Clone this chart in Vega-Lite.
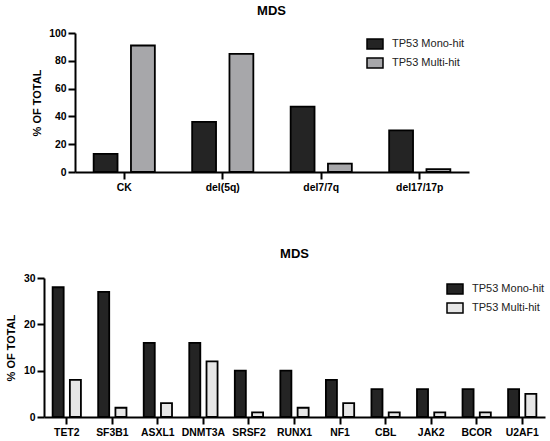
{
  "$schema": "https://vega.github.io/schema/vega-lite/v6.json",
  "padding": {"left": 5, "top": 5, "right": 5, "bottom": 5},
  "spacing": 55,
  "datasets": {
    "cyto": [
      {"lesion": "CK", "group": "TP53 Mono-hit", "pct": 13},
      {"lesion": "CK", "group": "TP53 Multi-hit", "pct": 91},
      {"lesion": "del(5q)", "group": "TP53 Mono-hit", "pct": 36},
      {"lesion": "del(5q)", "group": "TP53 Multi-hit", "pct": 85},
      {"lesion": "del7/7q", "group": "TP53 Mono-hit", "pct": 47},
      {"lesion": "del7/7q", "group": "TP53 Multi-hit", "pct": 6},
      {"lesion": "del17/17p", "group": "TP53 Mono-hit", "pct": 30},
      {"lesion": "del17/17p", "group": "TP53 Multi-hit", "pct": 2}
    ],
    "genes": [
      {"gene": "TET2", "group": "TP53 Mono-hit", "pct": 28},
      {"gene": "TET2", "group": "TP53 Multi-hit", "pct": 8},
      {"gene": "SF3B1", "group": "TP53 Mono-hit", "pct": 27},
      {"gene": "SF3B1", "group": "TP53 Multi-hit", "pct": 2},
      {"gene": "ASXL1", "group": "TP53 Mono-hit", "pct": 16},
      {"gene": "ASXL1", "group": "TP53 Multi-hit", "pct": 3},
      {"gene": "DNMT3A", "group": "TP53 Mono-hit", "pct": 16},
      {"gene": "DNMT3A", "group": "TP53 Multi-hit", "pct": 12},
      {"gene": "SRSF2", "group": "TP53 Mono-hit", "pct": 10},
      {"gene": "SRSF2", "group": "TP53 Multi-hit", "pct": 1},
      {"gene": "RUNX1", "group": "TP53 Mono-hit", "pct": 10},
      {"gene": "RUNX1", "group": "TP53 Multi-hit", "pct": 2},
      {"gene": "NF1", "group": "TP53 Mono-hit", "pct": 8},
      {"gene": "NF1", "group": "TP53 Multi-hit", "pct": 3},
      {"gene": "CBL", "group": "TP53 Mono-hit", "pct": 6},
      {"gene": "CBL", "group": "TP53 Multi-hit", "pct": 1},
      {"gene": "JAK2", "group": "TP53 Mono-hit", "pct": 6},
      {"gene": "JAK2", "group": "TP53 Multi-hit", "pct": 1},
      {"gene": "BCOR", "group": "TP53 Mono-hit", "pct": 6},
      {"gene": "BCOR", "group": "TP53 Multi-hit", "pct": 1},
      {"gene": "U2AF1", "group": "TP53 Mono-hit", "pct": 6},
      {"gene": "U2AF1", "group": "TP53 Multi-hit", "pct": 5}
    ]
  },
  "vconcat": [
    {
      "title": {"text": "MDS", "anchor": "middle", "frame": "group", "offset": 10},
      "width": 455,
      "height": 139,
      "data": {"name": "cyto"},
      "mark": {"type": "bar", "stroke": "black", "strokeWidth": 1.8},
      "encoding": {
        "x": {
          "field": "lesion", "type": "nominal", "sort": null, "title": null,
          "scale": {"range": [31, 425], "paddingInner": 0, "paddingOuter": 0},
          "axis": {"labelAngle": 0}
        },
        "xOffset": {
          "field": "group", "type": "nominal",
          "scale": {"paddingInner": 0.36, "paddingOuter": 0.5}
        },
        "y": {
          "field": "pct", "type": "quantitative", "title": "% OF TOTAL",
          "scale": {"domain": [0, 100]},
          "axis": {"values": [0, 20, 40, 60, 80, 100], "offset": -31}
        },
        "color": {
          "field": "group", "type": "nominal", "title": null,
          "scale": {"domain": ["TP53 Mono-hit", "TP53 Multi-hit"], "range": ["#242424", "#a7a7aa"]},
          "legend": {"orient": "none", "legendX": 320, "legendY": 0}
        }
      }
    },
    {
      "title": {"text": "MDS", "anchor": "middle", "frame": "group", "offset": 12},
      "width": 501,
      "height": 139,
      "data": {"name": "genes"},
      "mark": {"type": "bar", "stroke": "black", "strokeWidth": 1.8},
      "encoding": {
        "x": {
          "field": "gene", "type": "nominal", "sort": null, "title": null,
          "scale": {"paddingInner": 0, "paddingOuter": 0},
          "axis": {"labelAngle": 0}
        },
        "xOffset": {
          "field": "group", "type": "nominal",
          "scale": {"paddingInner": 0.36, "paddingOuter": 0.5}
        },
        "y": {
          "field": "pct", "type": "quantitative", "title": "% OF TOTAL",
          "scale": {"domain": [0, 30]},
          "axis": {"values": [0, 10, 20, 30]}
        },
        "color": {
          "field": "group", "type": "nominal", "title": null,
          "scale": {"domain": ["TP53 Mono-hit", "TP53 Multi-hit"], "range": ["#242424", "#e6e6e6"]},
          "legend": {"orient": "none", "legendX": 400, "legendY": 0}
        }
      }
    }
  ],
  "resolve": {
    "scale": {"x": "independent", "y": "independent", "color": "independent", "xOffset": "independent"},
    "axis": {"x": "independent", "y": "independent"},
    "legend": {"color": "independent"}
  },
  "config": {
    "view": {"stroke": null},
    "font": "Liberation Sans",
    "title": {"font": "Liberation Sans", "fontSize": 13, "fontWeight": "bold", "color": "black"},
    "axis": {
      "grid": false,
      "domainColor": "black",
      "domainWidth": 2,
      "tickColor": "black",
      "tickWidth": 2,
      "tickSize": 7,
      "labelFont": "Liberation Sans",
      "labelFontSize": 10.4,
      "labelFontWeight": "bold",
      "labelColor": "black",
      "titleFont": "Liberation Sans",
      "titleFontSize": 11,
      "titleFontWeight": "bold",
      "titleColor": "black"
    },
    "axisY": {"labelPadding": 2, "titlePadding": 6.5},
    "axisX": {"labelPadding": 3},
    "legend": {
      "padding": 0,
      "symbolType": "M-0.8,-0.5H0.8V0.5H-0.8Z",
      "symbolSize": 400,
      "symbolStrokeColor": "black",
      "symbolStrokeWidth": 1.5,
      "symbolOpacity": 1,
      "labelFont": "Liberation Sans",
      "labelFontSize": 11,
      "labelColor": "#222222",
      "labelOffset": 6,
      "rowPadding": 0
    }
  }
}
